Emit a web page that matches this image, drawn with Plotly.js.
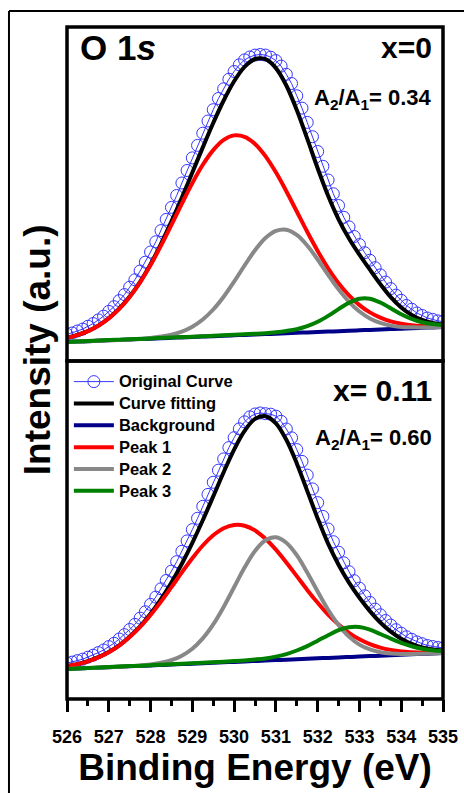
<!DOCTYPE html>
<html>
<head>
<meta charset="utf-8">
<script src="https://cdn.plot.ly/plotly-3.0.1.min.js"></script>
<style>html,body{margin:0;padding:0;background:#fff;}#chart{width:464px;height:793px;}</style>
</head>
<body>
<div id="chart"></div>
<script>
// Binding energy grids (eV)
const energy = [526,526.25,526.5,526.75,527,527.25,527.5,527.75,528,528.25,528.5,528.75,529,529.25,529.5,529.75,530,530.25,530.5,530.75,531,531.25,531.5,531.75,532,532.25,532.5,532.75,533,533.25,533.5,533.75,534,534.25,534.5,534.75,535];
const energyRaw = [526,526.125,526.25,526.375,526.5,526.625,526.75,526.875,527,527.125,527.25,527.375,527.5,527.625,527.75,527.875,528,528.125,528.25,528.375,528.5,528.625,528.75,528.875,529,529.125,529.25,529.375,529.5,529.625,529.75,529.875,530,530.125,530.25,530.375,530.5,530.625,530.75,530.875,531,531.125,531.25,531.375,531.5,531.625,531.75,531.875,532,532.125,532.25,532.375,532.5,532.625,532.75,532.875,533,533.125,533.25,533.375,533.5,533.625,533.75,533.875,534,534.125,534.25,534.375,534.5,534.625,534.75,534.875,535];

// x = 0 panel (intensity, a.u.)
const x0Original = [26.6,28.0,30.0,31.9,34.7,37.4,41.1,44.8,49.6,54.3,60.4,66.4,73.8,81.2,90.0,98.8,109.0,119.2,130.4,141.6,153.6,165.5,178.0,190.5,203.1,215.6,227.8,240.0,251.3,262.5,272.2,281.8,289.5,296.2,301.1,304.0,305.9,306.5,305.9,303.8,300.4,294.9,286.7,277.5,265.2,252.9,238.6,224.3,209.5,194.7,181.0,167.2,155.5,143.7,134.1,124.5,116.4,108.3,100.8,93.3,86.1,78.9,72.4,65.9,60.7,55.5,51.8,48.0,45.5,43.0,41.6,40.1,39.4];
const x0Fit = [23.1,26.0,29.9,35.4,42.8,52.3,64.4,79.2,96.8,117.2,139.6,163.5,188.5,213.6,238.0,260.5,279.8,294.2,302.0,301.8,292.9,275.5,250.9,222.3,192.7,165.2,141.7,122.5,106.3,91.3,76.9,63.9,53.5,46.0,41.0,38.1,36.6];
const x0Background = [19.0,19.4,19.8,20.3,20.7,21.1,21.5,21.9,22.3,22.8,23.2,23.6,24.0,24.4,24.8,25.3,25.7,26.1,26.5,26.9,27.3,27.8,28.2,28.6,29.0,29.4,29.8,30.3,30.7,31.1,31.5,31.9,32.3,32.8,33.2,33.6,34.0];
const x0Peak1 = [23.0,25.9,29.8,35.3,42.6,52.1,64.1,78.7,95.9,115.4,136.2,157.4,177.9,196.2,210.9,221.1,225.6,224.2,217.1,204.9,188.7,169.8,149.5,129.2,110.0,92.7,77.8,65.6,55.9,48.6,43.3,39.6,37.2,35.8,35.0,34.6,34.6];
const x0Peak2 = [19.0,19.4,19.8,20.3,20.7,21.1,21.6,22.2,23.0,24.4,26.3,29.4,34.3,41.5,51.5,64.3,79.4,95.5,110.7,122.9,130.1,131.3,126.0,115.5,101.5,86.2,71.6,59.2,49.5,42.6,38.1,35.4,34.1,33.7,33.6,33.8,34.1];
const x0Peak3 = [19.1,19.5,19.9,20.4,20.9,21.3,21.7,22.1,22.5,23.0,23.5,23.9,24.3,24.7,25.2,25.7,26.2,26.7,27.2,27.8,28.7,30.0,31.8,34.8,39.2,45.1,51.9,58.3,62.3,62.3,58.5,52.7,46.8,42.1,38.8,36.9,35.9];

// x = 0.11 panel (intensity, a.u.)
const x11Original = [35.9,36.9,38.4,39.8,41.8,43.8,46.4,49.0,52.4,55.7,60.0,64.3,69.5,74.6,80.9,87.2,94.6,101.9,110.2,118.5,127.9,137.3,147.7,158.1,169.4,180.7,192.7,204.6,216.7,228.8,240.1,251.4,261.3,270.1,277.1,282.1,285.0,286.0,285.3,284.8,282.8,277.7,270.0,261.2,249.4,237.6,223.9,210.1,196.4,182.6,170.0,157.3,146.8,136.2,127.3,118.3,110.8,103.2,96.6,89.9,84.2,78.5,73.9,69.3,65.8,62.2,59.7,57.1,55.3,53.5,52.5,51.5,51.0];
const x11Fit = [32.9,34.9,37.8,41.8,47.0,53.7,62.3,72.6,85.2,99.9,116.5,135.3,156.1,178.7,202.6,226.8,249.4,268.1,280.1,282.8,275.7,259.2,235.6,208.1,180.6,155.3,134.2,116.3,101.2,87.9,76.5,67.3,60.2,55.1,51.5,49.5,48.4];
const x11Background = [30.0,30.4,30.9,31.3,31.8,32.2,32.7,33.1,33.6,34.0,34.4,34.9,35.3,35.8,36.2,36.7,37.1,37.6,38.0,38.4,38.9,39.3,39.8,40.2,40.7,41.1,41.6,42.0,42.4,42.9,43.3,43.8,44.2,44.7,45.1,45.6,46.0];
const x11Peak1 = [32.8,34.8,37.7,41.6,46.8,53.4,61.9,72.0,84.0,97.4,111.8,126.6,140.7,153.5,163.7,170.8,174.0,173.3,168.6,160.3,149.4,136.6,122.9,109.1,96.2,84.4,74.5,66.2,59.7,54.9,51.4,49.1,47.6,46.8,46.3,46.3,46.4];
const x11Peak2 = [30.0,30.4,30.9,31.3,31.8,32.3,32.9,33.5,34.6,36.2,38.8,43.3,50.3,60.6,74.6,92.1,111.7,131.4,148.0,158.7,161.7,156.3,143.8,126.5,107.5,89.3,74.1,62.4,54.4,49.5,46.7,45.4,44.9,45.0,45.2,45.6,46.0];
const x11Peak3 = [30.1,30.5,31.0,31.5,32.0,32.4,32.9,33.3,33.8,34.3,34.7,35.2,35.7,36.2,36.7,37.3,37.9,38.6,39.5,40.6,42.4,44.9,48.5,52.9,58.3,63.8,68.8,71.7,71.9,69.3,65.0,60.4,56.1,52.7,50.2,48.8,48.0];

const seriesNames = ['Original Curve','Curve fitting','Background','Peak 1','Peak 2','Peak 3'];
const tickValues = [526,527,528,529,530,531,532,533,534,535];
const panelLabels = ['x=0','x= 0.11'];
const ratioLabels = ['A<sub>2</sub>/A<sub>1</sub>= 0.34','A<sub>2</sub>/A<sub>1</sub>= 0.60'];

const F = 'Arial, "Liberation Sans", sans-serif';
const colors = {orig:'#3535ff', fit:'#000000', bg:'#000088', p1:'#ff0000', p2:'#888888', p3:'#008000'};
const legendName = n => '<span style="font-size:16.5px">' + n + '</span>';

function panel(yaxis, orig, fit, bg, p1, p2, p3, showLegend) {
  const common = {xaxis:'x', yaxis:yaxis, showlegend:showLegend, hoverinfo:'skip'};
  return [
    Object.assign({type:'scatter', mode:'lines+markers', name:legendName(seriesNames[0]), x:energyRaw, y:orig,
      line:{color:colors.orig, width:1}, marker:{symbol:'circle-open', size:12, color:colors.orig, line:{width:1, color:colors.orig}}}, common),
    Object.assign({type:'scatter', mode:'lines', name:legendName(seriesNames[1]), x:energy, y:fit, line:{color:colors.fit, width:4, shape:'spline'}}, common),
    Object.assign({type:'scatter', mode:'lines', name:legendName(seriesNames[2]), x:energy, y:bg, line:{color:colors.bg, width:4, shape:'spline'}}, common),
    Object.assign({type:'scatter', mode:'lines', name:legendName(seriesNames[3]), x:energy, y:p1, line:{color:colors.p1, width:4, shape:'spline'}}, common),
    Object.assign({type:'scatter', mode:'lines', name:legendName(seriesNames[4]), x:energy, y:p2, line:{color:colors.p2, width:4, shape:'spline'}}, common),
    Object.assign({type:'scatter', mode:'lines', name:legendName(seriesNames[5]), x:energy, y:p3, line:{color:colors.p3, width:4, shape:'spline'}}, common)
  ];
}

const data = [].concat(
  panel('y', x11Original, x11Fit, x11Background, x11Peak1, x11Peak2, x11Peak3, true),
  panel('y2', x0Original, x0Fit, x0Background, x0Peak1, x0Peak2, x0Peak3, false)
);

const split = 0.503;
const layout = {
  width:464, height:793,
  margin:{l:67, r:21, t:27, b:94, pad:0},
  paper_bgcolor:'#ffffff', plot_bgcolor:'#ffffff',
  showlegend:true,
  xaxis:{range:[526,535], tickmode:'array', tickvals:tickValues, ticktext:tickValues.map(String),
    ticks:'outside', ticklen:12, tickwidth:3, tickcolor:'#000', showline:false, showgrid:false, zeroline:false,
    ticklabelstandoff:9,
    tickfont:{family:F, size:18, color:'#000', weight:'bold'},
    minor:{dtick:0.5, tick0:526, ticks:'outside', ticklen:6, tickwidth:3, tickcolor:'#000', showgrid:false},
    title:{text:'Binding Energy (eV)', font:{family:F, size:37, color:'#000', weight:'bold'}, standoff:3},
    anchor:'y'},
  yaxis:{domain:[0,split], range:[0,338], visible:false, fixedrange:true},
  yaxis2:{domain:[split,1], range:[0,334], visible:false, fixedrange:true},
  legend:{x:0.005, y:0.496, xanchor:'left', yanchor:'top', bgcolor:'rgba(0,0,0,0)', itemwidth:40, tracegroupgap:0,
    font:{family:F, size:14.5, color:'#000', weight:'bold'}},
  shapes:[
    {type:'rect', xref:'paper', yref:'paper', x0:0, x1:1, y0:split, y1:1, line:{color:'#000', width:3.5}},
    {type:'rect', xref:'paper', yref:'paper', x0:0, x1:1, y0:0, y1:split, line:{color:'#000', width:3.5}},
    {type:'line', xref:'paper', yref:'paper', x0:-0.1543, x1:-0.1543, y0:-0.145, y1:1.0238, line:{color:'#000', width:2}},
    {type:'line', xref:'paper', yref:'paper', x0:-0.1543, x1:1.06, y0:1.0238, y1:1.0238, line:{color:'#000', width:2}}
  ],
  annotations:[
    {xref:'paper', yref:'paper', x:-0.078, y:0.52, text:'Intensity (a.u.)', textangle:-90, showarrow:false,
      font:{family:F, size:37, color:'#000', weight:'bold'}, xanchor:'center', yanchor:'middle'},
    {xref:'paper', yref:'paper', x:0.03, y:0.97, text:'O 1<i>s</i>', showarrow:false, xanchor:'left', yanchor:'middle',
      font:{family:F, size:35, color:'#000', weight:'bold'}},
    {xref:'paper', yref:'paper', x:0.976, y:0.969, text:panelLabels[0], showarrow:false, xanchor:'right', yanchor:'middle',
      font:{family:F, size:30, color:'#000', weight:'bold'}},
    {xref:'paper', yref:'paper', x:0.976, y:0.893, text:ratioLabels[0], showarrow:false, xanchor:'right', yanchor:'middle',
      font:{family:F, size:22, color:'#000', weight:'bold'}},
    {xref:'paper', yref:'paper', x:0.976, y:0.459, text:panelLabels[1], showarrow:false, xanchor:'right', yanchor:'middle',
      font:{family:F, size:30, color:'#000', weight:'bold'}},
    {xref:'paper', yref:'paper', x:0.976, y:0.387, text:ratioLabels[1], showarrow:false, xanchor:'right', yanchor:'middle',
      font:{family:F, size:22, color:'#000', weight:'bold'}}
  ]
};

Plotly.newPlot('chart', data, layout, {staticPlot:true, displayModeBar:false});
</script>
</body>
</html>
